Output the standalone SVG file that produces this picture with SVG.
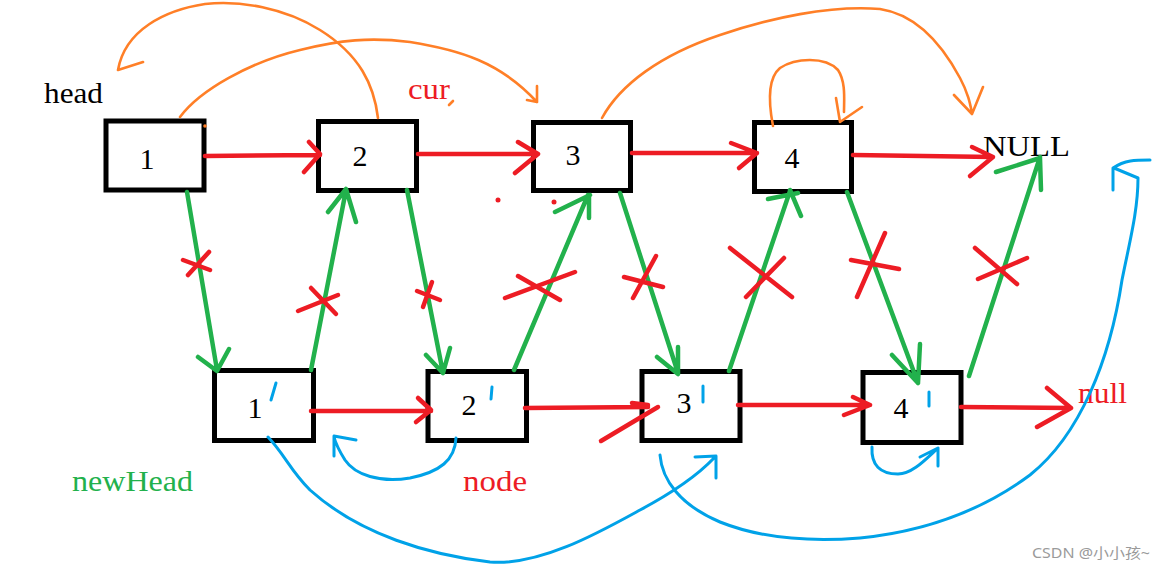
<svg xmlns="http://www.w3.org/2000/svg" width="1163" height="571" viewBox="0 0 1163 571">
<defs>
<style>
.box{fill:#fff;stroke:#000;stroke-width:5}
.num{font-family:"Liberation Serif","Times New Roman",serif;font-size:30px;fill:#000;text-anchor:middle}
.lbl{font-family:"Liberation Serif","Times New Roman",serif;font-size:29px}
.red{fill:none;stroke:#ED1C24;stroke-width:4.5;stroke-linecap:round;stroke-linejoin:round}
.green{fill:none;stroke:#22B14C;stroke-width:4.5;stroke-linecap:round;stroke-linejoin:round}
.x{fill:none;stroke:#ED1C24;stroke-width:4.5;stroke-linecap:round}
.orange{fill:none;stroke:#FF7F27;stroke-width:2.6;stroke-linecap:round;stroke-linejoin:round}
.blue{fill:none;stroke:#00A2E8;stroke-width:3;stroke-linecap:round;stroke-linejoin:round}
.tick{fill:none;stroke:#00A2E8;stroke-width:3;stroke-linecap:round}
</style>
</defs>
<rect width="1163" height="571" fill="#fff"/>

<g id="node-1"><rect class="box" x="106" y="121" width="98" height="69"/><text class="num" x="147" y="169">1</text></g>
<g id="node-2"><rect class="box" x="318.5" y="121.5" width="98" height="69"/><text class="num" x="360" y="166">2</text></g>
<g id="node-3"><rect class="box" x="533.5" y="122.5" width="97" height="68"/><text class="num" x="573" y="165">3</text></g>
<g id="node-4"><rect class="box" x="754.5" y="122.5" width="97" height="69"/><text class="num" x="792" y="168">4</text></g>

<g id="node-1p"><rect class="box" x="214.5" y="370.5" width="99" height="70"/><text class="num" x="255" y="418">1</text><path class="tick" d="M276,383 L271,400"/></g>
<g id="node-2p"><rect class="box" x="428" y="371.5" width="98.5" height="69"/><text class="num" x="469" y="415">2</text><path class="tick" d="M492,387 L491,399"/></g>
<g id="node-3p"><rect class="box" x="642" y="371.5" width="98" height="69"/><text class="num" x="684" y="413">3</text><path class="tick" d="M703,386 L703,402"/></g>
<g id="node-4p"><rect class="box" x="863" y="372.5" width="98" height="70"/><text class="num" x="901" y="418">4</text><path class="tick" d="M929,392 L929,406"/></g>

<g id="labels">
<text class="lbl" x="44" y="103" fill="#000" textLength="59" lengthAdjust="spacingAndGlyphs">head</text>
<text class="lbl" x="408" y="99" fill="#ED1C24" textLength="42" lengthAdjust="spacingAndGlyphs">cur</text>
<text class="lbl" x="983" y="156" fill="#000" textLength="87" lengthAdjust="spacingAndGlyphs">NULL</text>
<text class="lbl" x="72" y="491" fill="#22B14C" textLength="121" lengthAdjust="spacingAndGlyphs">newHead</text>
<text class="lbl" x="463" y="491" fill="#ED1C24" textLength="64" lengthAdjust="spacingAndGlyphs">node</text>
<text class="lbl" x="1078" y="403" fill="#ED1C24" textLength="49" lengthAdjust="spacingAndGlyphs">null</text>
<text x="1032" y="558" fill="#9a9a9a" font-family="'Noto Sans','Noto Sans CJK SC',sans-serif" font-size="14" textLength="118" lengthAdjust="spacingAndGlyphs">CSDN @小小孩~</text>
</g>

<g id="connectors">
<!-- red next pointers -->
<path class="red" d="M205,156 L320,155 M309,142 L320,154 L304,172"/>
<path class="red" d="M418,154 L538,154 M518,142 L538,154 L515,173"/>
<path class="red" d="M632,153 L757,153 M731,143 L757,153 L739,168"/>
<path class="red" d="M853,155 L993,157 M972,147 L993,157 L970,176"/>
<path class="red" d="M311,411 L431,411 M418,398 L431,410 L416,422"/>
<path class="red" d="M525,408 L648,407 M632,403 L648,405 M601,441 L658,407"/>
<path class="red" d="M738,405 L870,405 M853,397 L870,405 L844,415"/>
<path class="red" d="M961,407 L1071,408 M1047,388 L1071,408 L1037,427"/>

<!-- green pointers -->
<path class="green" d="M187,192 L217,370 M198,357 L217,371 L229,349"/>
<path class="green" d="M311,370 L346,190 M328,212 L346,189 L356,222"/>
<path class="green" d="M407,190 L443,373 M426,355 L443,373 L450,348"/>
<path class="green" d="M514,370 L588,195 M555,212 L590,195 M589,218 L589,195"/>
<path class="green" d="M620,193 L678,373 M657,357 L678,374 L678,347"/>
<path class="green" d="M729,371 L790,191 M768,199 L798,193 M801,216 L790,190"/>
<path class="green" d="M847,192 L918,383 M892,355 L918,383 L920,344"/>
<path class="green" d="M969,376 L1040,157 M996,172 L1040,158 L1041,190"/>

<!-- red crosses -->
<path class="x" d="M183,260 L210,270 M209,252 L188,275"/>
<path class="x" d="M298,311 L338,295 M311,288 L336,314"/>
<path class="x" d="M417,291 L440,300 M432,282 L423,307"/>
<path class="x" d="M505,298 L575,272 M518,276 L560,300"/>
<path class="x" d="M656,256 L633,298 M624,277 L663,287"/>
<path class="x" d="M730,248 L792,297 M746,297 L784,258"/>
<path class="x" d="M885,233 L857,297 M851,260 L899,269"/>
<path class="x" d="M975,248 L1017,284 M978,279 L1027,258"/>
<circle cx="498" cy="200" r="2.5" fill="#ED1C24"/>
<circle cx="554" cy="202" r="2.5" fill="#ED1C24"/>

<!-- orange curves -->
<path class="orange" d="M378,118 C374,85 360,55 320,30 C285,8 240,0 205,4 C165,10 125,30 118,70 L143,62"/>
<path class="orange" d="M180,117 C200,90 250,62 300,50 C340,40 370,37 410,42 C460,50 500,62 537,102 M537,86 L537,102 L527,100"/>
<path class="orange" d="M602,118 C620,85 660,55 720,35 C770,18 830,5 880,9 C920,15 945,50 960,78 C968,93 970,103 972,113 M954,95 L972,114 L983,87"/>
<path class="orange" d="M773,126 C768,100 768,78 780,68 C795,58 825,56 838,70 C846,82 844,100 844,112 M836,98 L840,122 L862,107"/>
<circle cx="205" cy="126" r="1.8" fill="#FF7F27"/>
<path class="orange" d="M449,105 L453,101"/>

<!-- blue curves -->
<path class="blue" d="M268,437 C285,455 290,470 310,490 C360,535 430,555 490,562 C540,566 600,532 640,510 C670,494 695,478 714,458 M695,457 L716,456 L716,478"/>
<path class="blue" d="M456,438 C455,460 440,472 410,478 C380,483 355,475 345,460 C340,452 336,445 334,437 M356,440 L334,436 L334,456"/>
<path class="blue" d="M660,455 C662,480 680,505 720,522 C760,538 810,542 860,538 C920,532 980,512 1030,475 C1080,435 1110,360 1122,280 C1130,240 1138,210 1138,178 L1114,168 M1113,190 L1113,168 C1125,160 1135,160 1150,160"/>
<path class="blue" d="M872,447 C871,465 880,474 898,474 C912,474 925,460 937,449 M920,457 L938,448 L938,466"/>
</g>
</svg>
